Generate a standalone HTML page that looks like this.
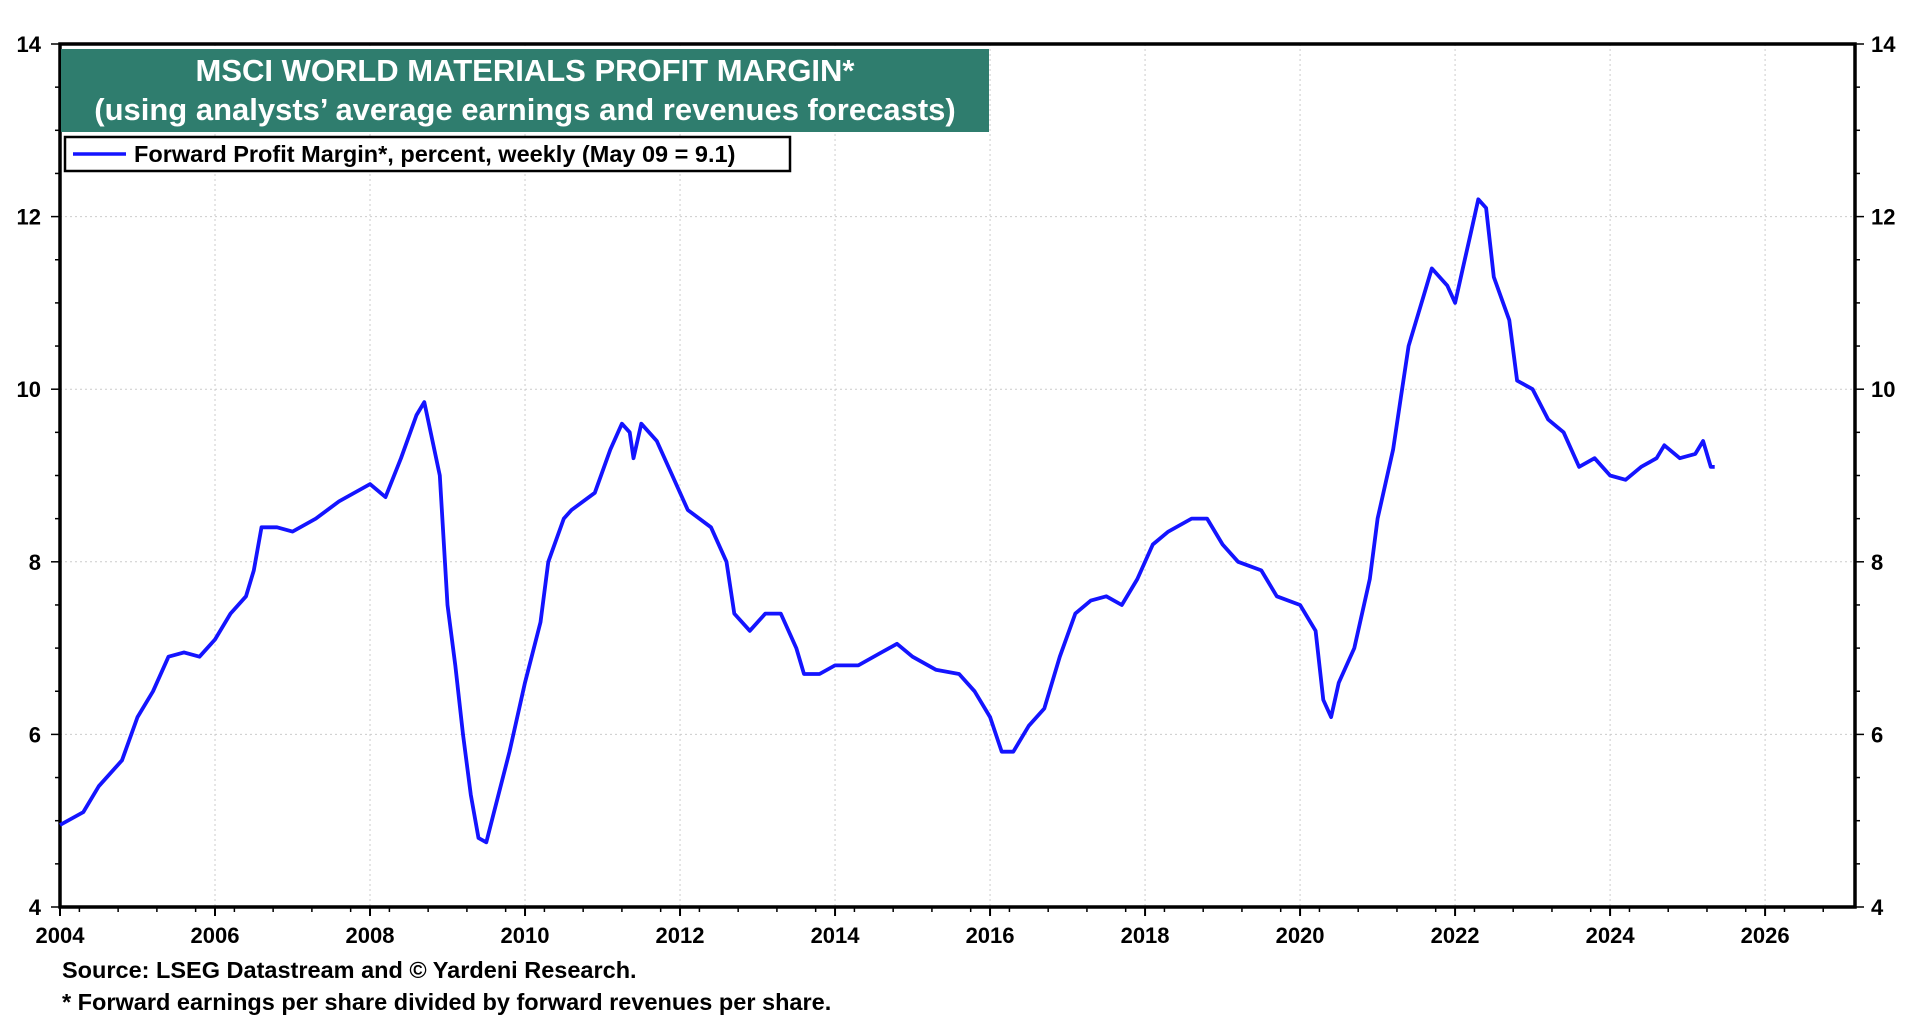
<!DOCTYPE html>
<html><head><meta charset="utf-8"><style>
body{margin:0;background:#fff;}
svg text{font-family:"Liberation Sans",Arial,sans-serif;font-weight:bold;}
</style></head><body>
<svg width="1920" height="1020" viewBox="0 0 1920 1020">
<g id="grid"></g>
<g id="axes"></g>
<polyline id="line" fill="none" stroke="#1414ff" stroke-width="3.8" stroke-linejoin="round"/>
<rect x="61" y="49" width="928" height="83" fill="#2f7d6e"/>
<text x="525" y="81" font-size="31" fill="#fff" text-anchor="middle">MSCI WORLD MATERIALS PROFIT MARGIN*</text>
<text x="525" y="120" font-size="31" fill="#fff" text-anchor="middle">(using analysts’ average earnings and revenues forecasts)</text>
<rect x="65" y="137" width="725" height="34" fill="#fff" stroke="#000" stroke-width="2.5"/>
<line x1="73" y1="154" x2="126" y2="154" stroke="#1414ff" stroke-width="3.5"/>
<text x="134" y="162" font-size="23.5">Forward Profit Margin*, percent, weekly (May 09 = 9.1)</text>
<text x="62" y="978" font-size="23.5">Source: LSEG Datastream and © Yardeni Research.</text>
<text x="62" y="1010" font-size="23.5">* Forward earnings per share divided by forward revenues per share.</text>
</svg>
<script>
const years=[2004,2004.3,2004.5,2004.8,2005,2005.2,2005.4,2005.6,2005.8,2006,2006.2,2006.4,2006.5,2006.6,2006.8,2007,2007.3,2007.6,2008,2008.2,2008.4,2008.6,2008.7,2008.9,2009,2009.1,2009.2,2009.3,2009.4,2009.5,2009.6,2009.8,2010,2010.2,2010.3,2010.5,2010.6,2010.9,2011.1,2011.25,2011.35,2011.4,2011.5,2011.7,2011.9,2012.1,2012.4,2012.6,2012.7,2012.9,2013.1,2013.3,2013.5,2013.6,2013.8,2014,2014.3,2014.6,2014.8,2015,2015.3,2015.6,2015.8,2016,2016.15,2016.3,2016.5,2016.7,2016.9,2017.1,2017.3,2017.5,2017.7,2017.9,2018.1,2018.3,2018.6,2018.8,2019,2019.2,2019.5,2019.7,2020,2020.2,2020.3,2020.4,2020.5,2020.7,2020.9,2021,2021.2,2021.3,2021.4,2021.6,2021.7,2021.9,2022,2022.1,2022.2,2022.3,2022.4,2022.5,2022.7,2022.8,2023,2023.2,2023.4,2023.6,2023.8,2024,2024.2,2024.4,2024.6,2024.7,2024.9,2025.1,2025.2,2025.3,2025.35];
const margins=[4.95,5.1,5.4,5.7,6.2,6.5,6.9,6.95,6.9,7.1,7.4,7.6,7.9,8.4,8.4,8.35,8.5,8.7,8.9,8.75,9.2,9.7,9.85,9.0,7.5,6.8,6.0,5.3,4.8,4.75,5.1,5.8,6.6,7.3,8.0,8.5,8.6,8.8,9.3,9.6,9.5,9.2,9.6,9.4,9.0,8.6,8.4,8.0,7.4,7.2,7.4,7.4,7.0,6.7,6.7,6.8,6.8,6.95,7.05,6.9,6.75,6.7,6.5,6.2,5.8,5.8,6.1,6.3,6.9,7.4,7.55,7.6,7.5,7.8,8.2,8.35,8.5,8.5,8.2,8.0,7.9,7.6,7.5,7.2,6.4,6.2,6.6,7.0,7.8,8.5,9.3,9.9,10.5,11.1,11.4,11.2,11.0,11.4,11.8,12.2,12.1,11.3,10.8,10.1,10.0,9.65,9.5,9.1,9.2,9.0,8.95,9.1,9.2,9.35,9.2,9.25,9.4,9.1,9.1];
const xTicks=[2004,2006,2008,2010,2012,2014,2016,2018,2020,2022,2024,2026];
const yTicks=[4,6,8,10,12,14];
const X0=60,X1=1855,Y0=907,Y1=44,XMIN=2004,XMAX=2027.16,YMIN=4,YMAX=14;
const sx=v=>X0+(v-XMIN)/(XMAX-XMIN)*(X1-X0);
const sy=v=>Y0-(v-YMIN)/(YMAX-YMIN)*(Y0-Y1);
const NS="http://www.w3.org/2000/svg";
const grid=document.getElementById('grid'),axes=document.getElementById('axes');
function mk(tag,attrs,parent){const e=document.createElementNS(NS,tag);for(const k in attrs)e.setAttribute(k,attrs[k]);parent.appendChild(e);return e;}
xTicks.forEach(t=>{
 const g=mk('line',{x1:sx(t),x2:sx(t),y1:Y1,y2:Y0,stroke:'#ccc','stroke-dasharray':'2,3'},grid);
 
 
 const tk=mk('line',{x1:sx(t),x2:sx(t),y1:Y0,y2:Y0+9,stroke:'#000','stroke-width':2},axes);
 
 
 const l=mk('text',{x:sx(t),y:943,'font-size':22,'text-anchor':'middle'},axes);l.textContent=t;
 
 
});
for(let t=XMIN+0.25;t<XMAX;t+=0.5){if(Math.abs(t-Math.round(t/2)*2)<0.01)continue;
 const m=mk('line',{x1:sx(t),x2:sx(t),y1:Y0,y2:Y0+5,stroke:'#000','stroke-width':1.5},axes);
 
 }
yTicks.forEach(t=>{
 if(t>YMIN&&t<YMAX){const g=mk('line',{x1:X0,x2:X1,y1:sy(t),y2:sy(t),stroke:'#ccc','stroke-dasharray':'2,3'},grid);
 
 }
 const a=mk('text',{x:41,y:sy(t)+8,'font-size':22,'text-anchor':'end'},axes);a.textContent=t;
 
 
 const b=mk('text',{x:1871,y:sy(t)+8,'font-size':22},axes);b.textContent=t;
 
 
});
for(let t=YMIN;t<=YMAX;t+=0.5){const len=(t%2===0)?9:5;
 const m1=mk('line',{x1:X0-len,x2:X0,y1:sy(t),y2:sy(t),stroke:'#000','stroke-width':1.5},axes);
 
 
 const m2=mk('line',{x1:X1,x2:X1+len,y1:sy(t),y2:sy(t),stroke:'#000','stroke-width':1.5},axes);
 
 }
const fr=mk('rect',{x:X0,y:Y1,width:X1-X0,height:Y0-Y1,fill:'none',stroke:'#000','stroke-width':3.5},axes);


document.getElementById('line').setAttribute('points',years.map((y,i)=>sx(y).toFixed(1)+','+sy(margins[i]).toFixed(1)).join(' '));
</script>
</body></html>
